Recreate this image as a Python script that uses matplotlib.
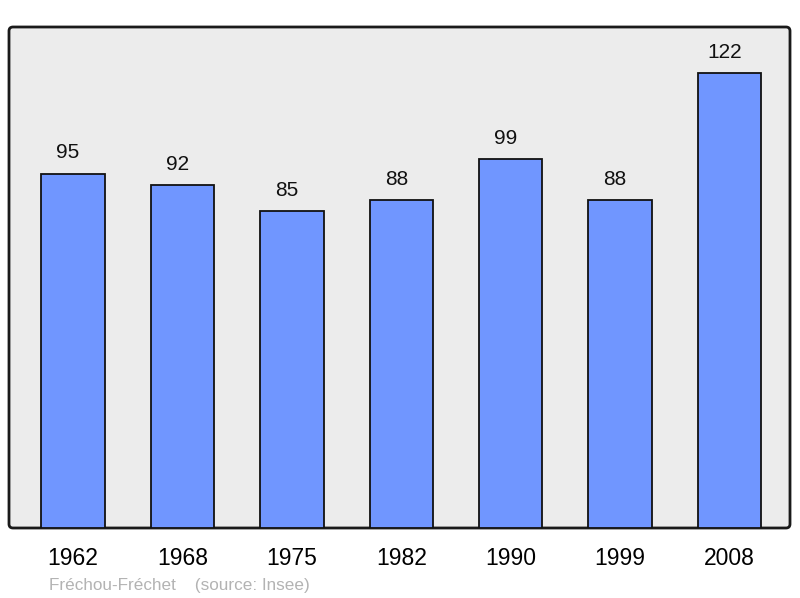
import matplotlib
matplotlib.use("Agg")
import matplotlib.pyplot as plt
from matplotlib.patches import FancyBboxPatch

years = ["1962", "1968", "1975", "1982", "1990", "1999", "2008"]
population = [95, 92, 85, 88, 99, 88, 122]
footer = "Fréchou-Fréchet    (source: Insee)"

plt.rcParams['font.family'] = ['Liberation Sans', 'DejaVu Sans']

fig = plt.figure(figsize=(8, 5.98), dpi=100)
L, R, T, B = 9, 790, 27, 528
W, H = 800, 598
ax = fig.add_axes([L / W, 1 - B / H, (R - L) / W, (B - T) / H])
ax.set_facecolor('none')
ax.set_zorder(2)

# background frame with rounded corners
frame = FancyBboxPatch((L, H - B), R - L, B - T,
                       boxstyle="round,pad=0,rounding_size=4",
                       transform=None, facecolor='#ececec',
                       edgecolor='#1a1a1a', linewidth=2, zorder=-1)
fig.patches.append(frame)

x = list(range(len(years)))
ax.bar(x, population, width=0.58, color='#7096ff', edgecolor='#111111',
       linewidth=1.3, zorder=2)
for xi, v in zip(x, population):
    ax.annotate(str(v), (xi, v), xytext=(-3.6, 8), textcoords='offset points',
                ha='center', va='bottom', fontsize=15, color='#111111')

ax.set_xlim(-0.585, 6.553)
ax.set_ylim(0, 134.3)
for s in ax.spines.values():
    s.set_visible(False)
ax.set_yticks([])
ax.set_xticks(x)
ax.set_xticklabels(years, fontsize=16.5)
ax.tick_params(axis='x', length=0, pad=14)

fig.text(49 / W, 1 - 590 / H, footer, fontsize=12.3, color='#b3b3b3',
         ha='left', va='baseline')

fig.savefig('out.png', dpi=100)
